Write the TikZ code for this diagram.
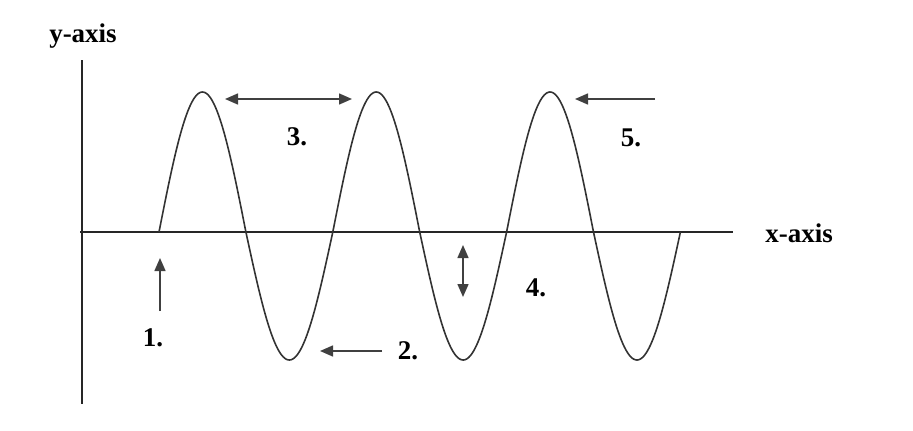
\documentclass[tikz,border=0pt]{standalone}
\usepackage{fontspec}
\setmainfont{Liberation Serif}
\usetikzlibrary{arrows.meta}
\begin{document}
\begin{tikzpicture}[x=1pt,y=-1pt,
  axisline/.style={line width=2.4pt,black!85},
  wave/.style={line width=1.6pt,black!80},
  tip/.style={},
  marker/.style={line width=1.5pt,black!75,-{Triangle[length=13pt,width=11pt]}},
  dmarker/.style={line width=1.5pt,black!75,{Triangle[length=13pt,width=11pt]}-{Triangle[length=13pt,width=11pt]}},
  lbl/.style={font=\fontsize{27}{30}\selectfont\bfseries,inner sep=0pt}]
\useasboundingbox (0,0) rectangle (913,431);
% axes
\coordinate (ytop) at (82,60);
\coordinate (ybot) at (82,404);
\coordinate (xl) at (80,232);
\coordinate (xr) at (733,232);
\draw[axisline] (ytop) -- (ybot);
\draw[axisline] (xl) -- (xr);
\node[lbl] (ylab) at (83,36) {y-axis};
\node[lbl] (xlab) at (799,233) {x-axis};
% wave
\draw[wave] plot[domain=159:680.4,samples=400,smooth]
  (\x,{232-((sin((\x-159)*2.07135)>0)?140:128)*sin((\x-159)*2.07135)});
% markers
\coordinate (a1s) at (160,311); \coordinate (a1e) at (160,258);
\coordinate (a2s) at (382,351); \coordinate (a2e) at (320,351);
\coordinate (a3s) at (225,99);  \coordinate (a3e) at (352,99);
\coordinate (a4s) at (463,245); \coordinate (a4e) at (463,297);
\coordinate (a5s) at (655,99);  \coordinate (a5e) at (575,99);
\draw[marker] (a1s) -- (a1e);
\draw[marker] (a2s) -- (a2e);
\draw[dmarker] (a3s) -- (a3e);
\draw[dmarker] (a4s) -- (a4e);
\draw[marker] (a5s) -- (a5e);
\node[lbl] (l1) at (153,338) {1.};
\node[lbl] (l2) at (408,351) {2.};
\node[lbl] (l3) at (297,137) {3.};
\node[lbl] (l4) at (536,288) {4.};
\node[lbl] (l5) at (631,138) {5.};
\end{tikzpicture}
\end{document}
